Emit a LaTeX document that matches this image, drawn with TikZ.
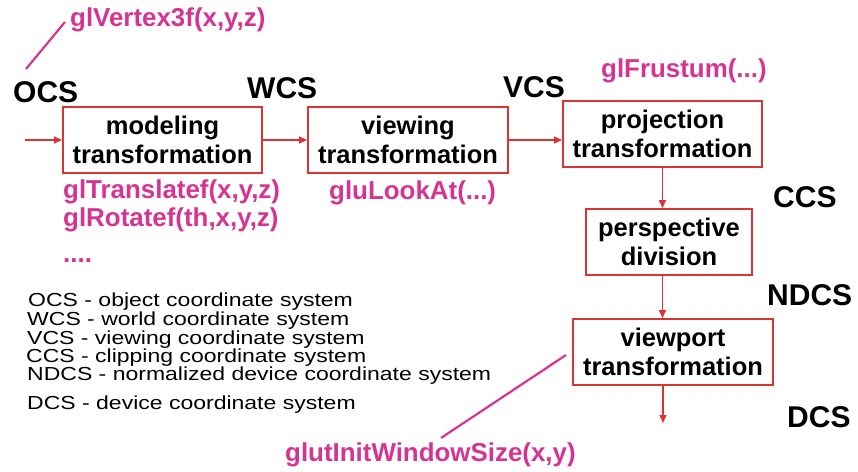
\documentclass[tikz,border=0pt]{standalone}
\usepackage{fontspec}
\setmainfont{Liberation Sans}
\usetikzlibrary{arrows.meta}
\definecolor{boxred}{RGB}{218,52,52}
\definecolor{mag}{RGB}{214,52,146}
\tikzset{
  stagebox/.style={draw=boxred, line width=1.8pt, fill=white, minimum width=#1, minimum height=66pt,
    inner sep=0pt, align=center, font=\bfseries\fontsize{25.5}{29}\selectfont},
  flow/.style={draw=boxred, line width=1.4pt, -{Triangle[length=8pt,width=7pt]}},
  cslabel/.style={anchor=base west, inner sep=0pt, font=\bfseries\fontsize{30}{30}\selectfont},
  fnlabel/.style={anchor=base west, inner sep=0pt, text=mag, font=\bfseries\fontsize{25.9}{28}\selectfont},
  legend/.style={anchor=base west, inner sep=0pt, yscale=0.82, transform shape, font=\fontsize{23}{23}\selectfont},
  pointer/.style={draw=mag, line width=2.2pt}
}
\begin{document}
\begin{tikzpicture}[x=1pt,y=-1pt]
\useasboundingbox (0,0) rectangle (858,471);
% boxes
\node[stagebox=199pt] (mod) at (162.5,140) {modeling\\transformation};
\node[stagebox=200pt] (view) at (408,140) {viewing\\transformation};
\node[stagebox=199pt] (proj) at (662.5,134) {projection\\transformation};
\node[stagebox=166pt] (persp) at (669,242) {perspective\\division};
\node[stagebox=200pt] (vp) at (673,352) {viewport\\transformation};
% flow arrows
\coordinate (in) at (25,140);
\coordinate (out) at (663,423);
\draw[flow] (in) -- (mod.west);
\draw[flow] (mod.east) -- (view.west);
\draw[flow] (view.east) -- (view.east -| proj.west);
\draw[flow] (proj.south) -- (proj.south |- persp.north);
\draw[flow] (persp.south -| proj.south) -- (vp.north -| proj.south);
\draw[flow] (vp.south -| out) -- (out);
% coordinate system labels
\node[cslabel] (ocs) at (13,102) {OCS};
\node[cslabel] (wcs) at (247,98) {WCS};
\node[cslabel] (vcs) at (503,97) {VCS};
\node[cslabel] (ccs) at (773,207) {CCS};
\node[cslabel] (ndcs) at (767,305) {NDCS};
\node[cslabel] (dcs) at (787,427) {DCS};
% function labels
\node[fnlabel] (vert) at (70,26) {glVertex3f(x,y,z)};
\node[fnlabel] (trans) at (63,198) {glTranslatef(x,y,z)};
\node[fnlabel] (rot) at (63,226) {glRotatef(th,x,y,z)};
\node[fnlabel] (dots) at (63,262) {....};
\node[fnlabel] (look) at (329,199) {gluLookAt(...)};
\node[fnlabel] (frus) at (601,77) {glFrustum(...)};
\node[fnlabel] (win) at (285,461) {glutInitWindowSize(x,y)};
% pointers
\coordinate (p1a) at (65,22);
\coordinate (p1b) at (26,69);
\coordinate (p2a) at (566,355);
\coordinate (p2b) at (441,438);
\draw[pointer] (p1a) -- (p1b);
\draw[pointer] (p2a) -- (p2b);
% legend
\node[legend] (l1) at (28,306) {OCS - object coordinate system};
\node[legend] (l2) at (27,325) {WCS - world coordinate system};
\node[legend] (l3) at (27,344) {VCS - viewing coordinate system};
\node[legend] (l4) at (26,362) {CCS - clipping coordinate system};
\node[legend] (l5) at (27,380) {NDCS - normalized device coordinate system};
\node[legend] (l6) at (27,409) {DCS - device coordinate system};
\end{tikzpicture}
\end{document}
